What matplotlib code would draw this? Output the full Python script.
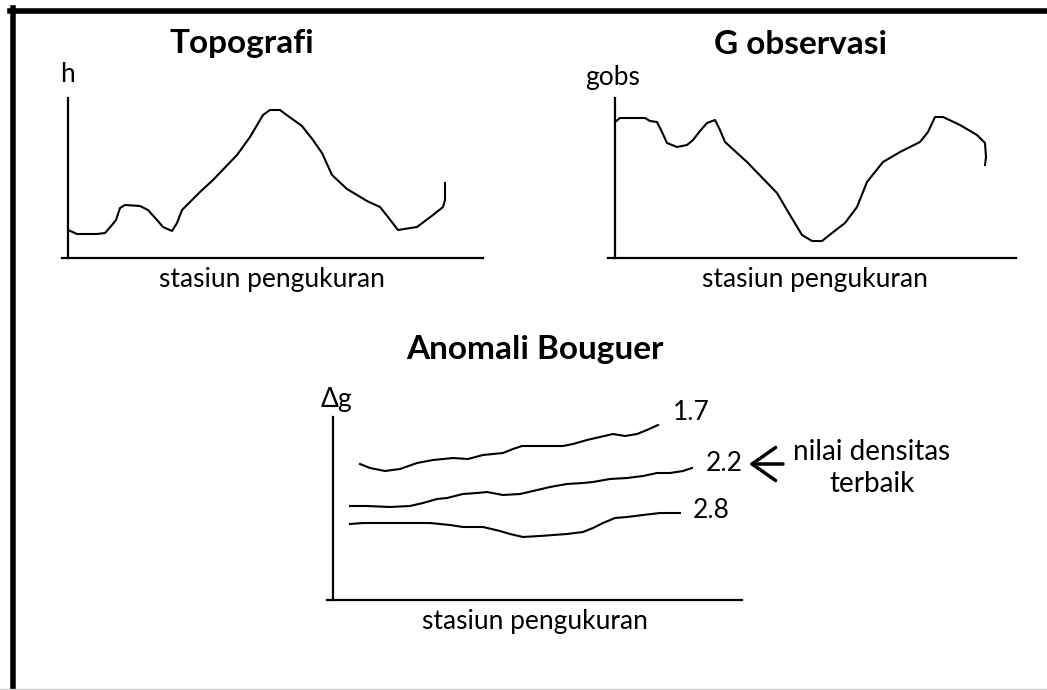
import matplotlib.pyplot as plt
from matplotlib.lines import Line2D

plt.rcParams['font.family'] = ['Lato', 'DejaVu Sans']

# hand-drawn sketch, values (arbitrary units)
topo_x = [0, 9, 29, 37, 44, 48, 52, 57, 72, 80, 89, 95, 104, 109, 114, 132, 145,
          169, 182, 195, 202, 212, 220, 234, 245, 254, 264, 279, 299, 312, 320,
          330, 349, 365, 375, 377, 377]
topo_h = [28, 24, 24, 25, 33, 38, 50, 53, 52, 48, 38, 31, 27, 35, 48, 66, 78,
          103, 121, 143, 148, 148, 142, 132, 118, 105, 83, 69, 57, 51, 41,
          28, 31, 43, 51, 58, 75]

gobs_x = [0, 5, 30, 35, 42, 47, 52, 62, 72, 78, 85, 92, 100, 105, 110, 132, 162,
          172, 187, 197, 207, 217, 230, 242, 252, 268, 285, 305, 313, 320, 328,
          345, 362, 370, 371, 370]
gobs_g = [136, 140, 140, 137, 136, 126, 115, 111, 113, 118, 127, 135, 138, 128, 116,
          96, 65, 48, 23, 17, 17, 25, 35, 51, 76, 96, 106, 116, 126, 141, 141,
          133, 123, 115, 101, 93]

rho_labels = ['1.7', '2.2', '2.8']
bg_x = [
    [27, 37, 52, 67, 84, 100, 120, 135, 150, 170, 180, 189, 230, 240, 254, 267,
     280, 292, 304, 314, 325],
    [17, 34, 57, 77, 90, 104, 114, 130, 144, 154, 170, 187, 200, 217, 234, 250,
     260, 277, 294, 310, 324, 337, 350, 359],
    [17, 30, 50, 97, 117, 130, 150, 167, 177, 190, 207, 234, 250, 260, 270, 282,
     294, 310, 327, 347],
]
bg_g = [
    [136, 132, 129, 131, 137, 140, 142, 141, 145, 147, 151, 154, 154, 156, 160, 163,
     166, 164, 166, 170, 175],
    [94, 94, 93, 94, 97, 101, 102, 106, 107, 108, 105, 106, 109, 113, 116, 117,
     118, 121, 122, 124, 127, 127, 129, 132],
    [76, 77, 77, 77, 75, 73, 73, 69, 66, 63, 64, 66, 68, 72, 77, 82,
     83, 85, 87, 87],
]
label_offsets = [(15, 12), (14, 4), (13, 3)]

W, H = 1047, 690
fig = plt.figure(figsize=(W / 100, H / 100), dpi=100)


def px_axes(left, right, top, bottom):
    # axes box given in pixel coords of the picture
    ax = fig.add_axes([left / W, 1 - bottom / H, (right - left) / W, (bottom - top) / H])
    ax.patch.set_visible(False)
    for s in ['top', 'right']:
        ax.spines[s].set_visible(False)
    for s in ['left', 'bottom']:
        ax.spines[s].set_linewidth(1.6)
    ax.spines['left'].set_position(('data', 0))
    ax.set_xticks([])
    ax.set_yticks([])
    return ax


def ftext(x, y, s, **kw):
    fig.text(x / W, 1 - y / H, s, ha='center', va='center', **kw)


lw = 1.5
fs = 19
fs_title = 24

# Topografi
ax1 = px_axes(62, 483, 98, 258)
ax1.set_xlim(-6, 415)
ax1.set_ylim(0, 160)
ax1.plot(topo_x, topo_h, color='black', lw=lw)
ftext(242, 44, 'Topografi', fontsize=fs_title, fontweight='bold')
ftext(68, 75, 'h', fontsize=fs)
ftext(272, 279, 'stasiun pengukuran', fontsize=fs)

# G observasi
ax2 = px_axes(608, 1016, 98, 258)
ax2.set_xlim(-7, 401)
ax2.set_ylim(0, 160)
ax2.plot(gobs_x, gobs_g, color='black', lw=lw)
ftext(801, 44, 'G observasi', fontsize=fs_title, fontweight='bold')
ftext(613, 78, 'gobs', fontsize=fs)
ftext(815, 279, 'stasiun pengukuran', fontsize=fs)

# Anomali Bouguer
ax3 = px_axes(327, 742, 417, 600)
ax3.set_xlim(-6, 409)
ax3.set_ylim(0, 183)
for xs, gs, lab, off in zip(bg_x, bg_g, rho_labels, label_offsets):
    ax3.plot(xs, gs, color='black', lw=lw)
    ax3.annotate(lab, (xs[-1], gs[-1]), xytext=off, textcoords='offset pixels',
                 ha='left', va='center', fontsize=fs)
ftext(535, 350, 'Anomali Bouguer', fontsize=fs_title, fontweight='bold')
ftext(336, 400, '\u0394g', fontsize=fs)
ftext(535, 622, 'stasiun pengukuran', fontsize=fs)

# arrow pointing at the best density curve
ax3.annotate('', xy=(749 / W, 1 - 464 / H), xytext=(783 / W, 1 - 464 / H),
             xycoords='figure fraction', textcoords='figure fraction',
             arrowprops=dict(arrowstyle='->,head_length=0.5,head_width=0.35',
                             lw=2.5, color='black', mutation_scale=34,
                             shrinkA=0, shrinkB=0))
ftext(872, 452, 'nilai densitas', fontsize=20)
ftext(872, 484, 'terbaik', fontsize=20)

# frame of the original slide: left and top edges only
fig.add_artist(Line2D([12.5 / W, 12.5 / W], [0, 1 - 8 / H], color='black', lw=4))
fig.add_artist(Line2D([10 / W, 1], [1 - 10.5 / H, 1 - 10.5 / H], color='black', lw=4))
fig.add_artist(Line2D([0, 1], [1 - 688.5 / H, 1 - 688.5 / H], color='#d0d0d0', lw=1))

fig.savefig('out.png', dpi=100)
